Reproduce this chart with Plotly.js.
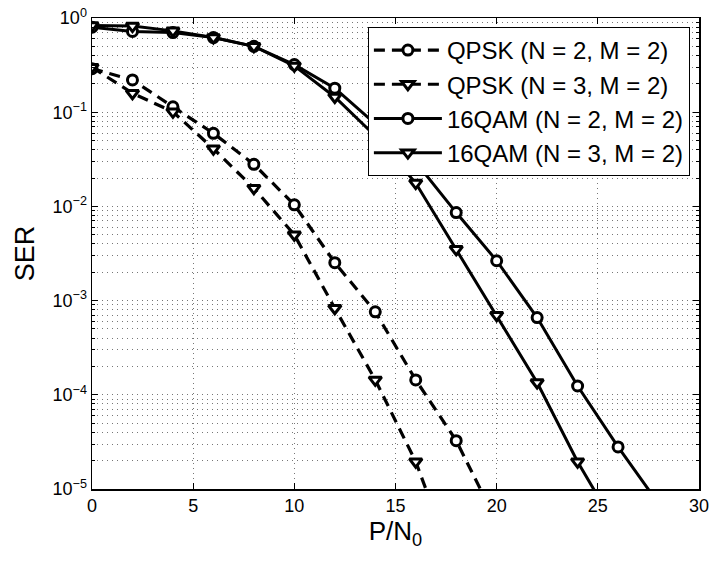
<!DOCTYPE html>
<html>
<head>
<meta charset="utf-8">
<script src="https://cdn.plot.ly/plotly-3.0.1.min.js"></script>
<style>html,body{margin:0;padding:0;background:#fff;}#chart{width:713px;height:561px;}</style>
</head>
<body>
<div id="chart"></div>
<script>
// ---- data ----
const snrQpskN2 = [0, 2, 4, 6, 8, 10, 12, 14, 16, 18, 20];
const serQpskN2 = [0.29, 0.22, 0.114, 0.0597, 0.028, 0.0104, 0.00253, 0.00076, 0.000144, 3.26e-5, 4.5e-6];

const snrQpskN3 = [0, 2, 4, 6, 8, 10, 12, 14, 16, 18];
const serQpskN3 = [0.30, 0.159, 0.101, 0.041, 0.0156, 0.0050, 0.00083, 0.000144, 1.95e-5, 1.35e-6];

const snrQamN2 = [0, 2, 4, 6, 8, 10, 12, 14, 16, 18, 20, 22, 24, 26, 28];
const serQamN2 = [0.80, 0.72, 0.70, 0.62, 0.50, 0.32, 0.18, 0.075, 0.0295, 0.0086, 0.00265, 0.00066, 0.000124, 2.8e-5, 7e-6];

const snrQamN3 = [0, 2, 4, 6, 8, 10, 12, 14, 16, 18, 20, 22, 24, 26];
const serQamN3 = [0.83, 0.82, 0.73, 0.62, 0.50, 0.31, 0.145, 0.056, 0.0177, 0.0035, 0.0007, 0.000135, 1.95e-5, 3.6e-6];

const seriesNames = ['QPSK (N = 2, M = 2)', 'QPSK (N = 3, M = 2)', '16QAM (N = 2, M = 2)', '16QAM (N = 3, M = 2)'];

const xTickVals = [0, 5, 10, 15, 20, 25, 30];
const xTickText = ['0', '5', '10', '15', '20', '25', '30'];
const yTickVals = [1e-5, 1e-4, 1e-3, 1e-2, 1e-1, 1];
const yTickText = ['10<sup>−5</sup>', '10<sup>−4</sup>', '10<sup>−3</sup>', '10<sup>−2</sup>', '10<sup>−1</sup>', '10<sup>0</sup>'];

// ---- styling ----
const FONT = 'Liberation Sans, Arial, Helvetica, sans-serif';
const dashPat = '11px,7px';
const GRID = '#777';
const GRIDDASH = '1px,4px';
function mk(sym) {
  return {symbol: sym, size: sym.indexOf('triangle') >= 0 ? 11 : 10, color: 'white', line: {color: 'black', width: 3}};
}
const traces = [
  {x: snrQpskN2, y: serQpskN2, name: seriesNames[0], mode: 'lines+markers', line: {color: 'black', width: 3.2, dash: dashPat}, marker: mk('circle')},
  {x: snrQpskN3, y: serQpskN3, name: seriesNames[1], mode: 'lines+markers', line: {color: 'black', width: 3.2, dash: dashPat}, marker: mk('triangle-down')},
  {x: snrQamN2, y: serQamN2, name: seriesNames[2], mode: 'lines+markers', line: {color: 'black', width: 3}, marker: mk('circle')},
  {x: snrQamN3, y: serQamN3, name: seriesNames[3], mode: 'lines+markers', line: {color: 'black', width: 3}, marker: mk('triangle-down')}
];

// minor grid positions 2..9 per decade
const minorVals = [];
for (let e = -5; e < 0; e++) for (let d = 2; d <= 9; d++) minorVals.push(d * Math.pow(10, e));

const layout = {
  width: 713, height: 561,
  margin: {l: 92, r: 14, t: 18, b: 72},
  paper_bgcolor: 'white', plot_bgcolor: 'white',
  font: {family: FONT, color: 'black', size: 18},
  showlegend: true,
  legend: {
    x: 0.985, y: 0.981, xanchor: 'right', yanchor: 'top',
    bgcolor: 'white', bordercolor: 'black', borderwidth: 1,
    font: {family: FONT, size: 24, color: 'black'},
    itemwidth: 68, tracegroupgap: 0
  },
  xaxis: {
    range: [0, 30], tickmode: 'array', tickvals: xTickVals, ticktext: xTickText,
    ticks: 'inside', ticklen: 6, tickcolor: 'black', showline: true, linecolor: 'black', linewidth: 1.5, mirror: 'ticks',
    showgrid: true, gridcolor: GRID, griddash: GRIDDASH, gridwidth: 1, zeroline: false,
    tickfont: {family: FONT, size: 18},
    title: {text: 'P/N<sub>0</sub>', font: {family: FONT, size: 26}, standoff: 4}
  },
  yaxis: {
    type: 'log', range: [-5, 0], tickmode: 'array', tickvals: yTickVals, ticktext: yTickText,
    ticks: 'inside', ticklen: 6, tickcolor: 'black', showline: true, linecolor: 'black', linewidth: 1.5, mirror: 'ticks',
    showgrid: true, gridcolor: GRID, griddash: GRIDDASH, gridwidth: 1, zeroline: false,
    tickfont: {family: FONT, size: 18},
    minor: {tickmode: 'array', tickvals: minorVals, ticks: 'inside', ticklen: 3, tickcolor: 'black', showgrid: true, gridcolor: GRID, griddash: GRIDDASH, gridwidth: 1},
    title: {text: 'SER', font: {family: FONT, size: 27}, standoff: 10}
  }
};

Plotly.newPlot('chart', traces, layout, {displayModeBar: false, staticPlot: true});
</script>
</body>
</html>
